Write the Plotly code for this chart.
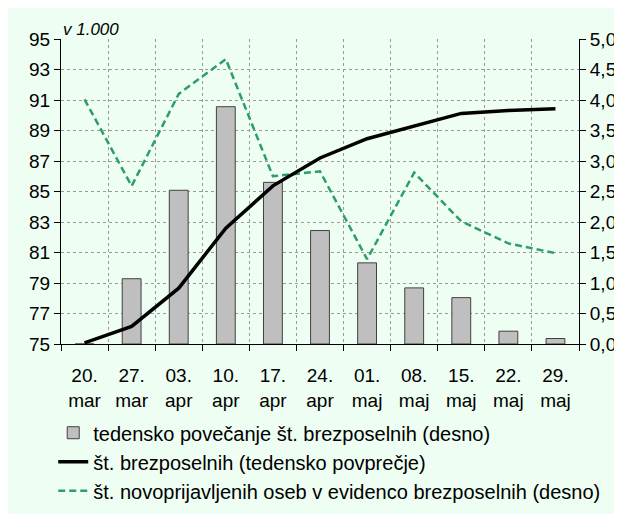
import plotly.graph_objects as go

# weeks (x categories)
weeks = ["20.<br>mar", "27.<br>mar", "03.<br>apr", "10.<br>apr", "17.<br>apr", "24.<br>apr",
         "01.<br>maj", "08.<br>maj", "15.<br>maj", "22.<br>maj", "29.<br>maj"]

# weekly increase in unemployed, thousands (right axis)
weekly_increase = [0.0, 1.07, 2.52, 3.89, 2.65, 1.86, 1.33, 0.92, 0.76, 0.21, 0.09]

# number of unemployed, weekly average, thousands (left axis)
unemployed = [75.08, 76.15, 78.66, 82.6, 85.37, 87.2, 88.46, 89.31, 90.12, 90.31, 90.42]

# newly registered unemployed, thousands (right axis)
new_registered = [4.01, 2.59, 4.10, 4.67, 2.75, 2.83, 1.39, 2.81, 2.01, 1.65, 1.49]

FONT = "Liberation Sans, Arial, sans-serif"
BG = "#EEFEF2"

fig = go.Figure()

fig.add_trace(go.Bar(
    x=weeks, y=weekly_increase, yaxis="y",
    name="tedensko povečanje št. brezposelnih (desno)",
    marker=dict(color="#BFBFBF", line=dict(color="#404040", width=1)),
    legendgroup="a", legendrank=1,
))
fig.add_trace(go.Scatter(
    x=weeks, y=new_registered, yaxis="y", mode="lines",
    name="št. novoprijavljenih oseb v evidenco brezposelnih (desno)",
    line=dict(color="#2E9E68", width=2.5, dash="7px,4px"),
    legendgroup="c", legendrank=3,
))
fig.add_trace(go.Scatter(
    x=weeks, y=unemployed, yaxis="y2", mode="lines",
    name="št. brezposelnih (tedensko povprečje)",
    line=dict(color="black", width=3.5),
    legendgroup="b", legendrank=2,
))

fig.update_layout(
    width=622, height=514,
    margin=dict(l=53, r=51, t=31, b=170),
    paper_bgcolor=BG, plot_bgcolor=BG,
    font=dict(family=FONT, size=19, color="black"),
    separators=",.",
    bargap=0.6,
    showlegend=True,
    legend=dict(
        x=-0.015, y=-0.227, xanchor="left", yanchor="top",
        orientation="v", bgcolor="rgba(0,0,0,0)",
        font=dict(size=20), tracegroupgap=0, itemwidth=30,
    ),
    xaxis=dict(
        tickson="boundaries", showgrid=True, gridcolor="#9A9A9A", griddash="dot", gridwidth=1,
        showline=True, linecolor="black", linewidth=1,
        ticks="outside", ticklen=6, tickcolor="black", tickangle=0,
        tickfont=dict(size=19), range=[-0.5, 10.5], ticklabelstandoff=14,
    ),
    yaxis=dict(
        side="right", range=[0, 5], dtick=0.5, tickformat=".1f",
        showgrid=True, gridcolor="#9A9A9A", griddash="dot", gridwidth=1,
        showline=True, linecolor="black", linewidth=1,
        ticks="outside", ticklen=6, tickcolor="black", zeroline=False,
    ),
    yaxis2=dict(
        side="left", overlaying="y", range=[75, 95], tick0=75, dtick=2,
        showgrid=False, showline=True, linecolor="black", linewidth=1,
        ticks="outside", ticklen=6, tickcolor="black", zeroline=False,
    ),
    annotations=[dict(
        text="<i>v 1.000</i>", xref="paper", yref="paper", x=0.0, y=1.0,
        xanchor="left", yanchor="bottom", showarrow=False, yshift=-2,
        font=dict(size=17, family=FONT),
    )],
)

fig.write_html("out.html")
